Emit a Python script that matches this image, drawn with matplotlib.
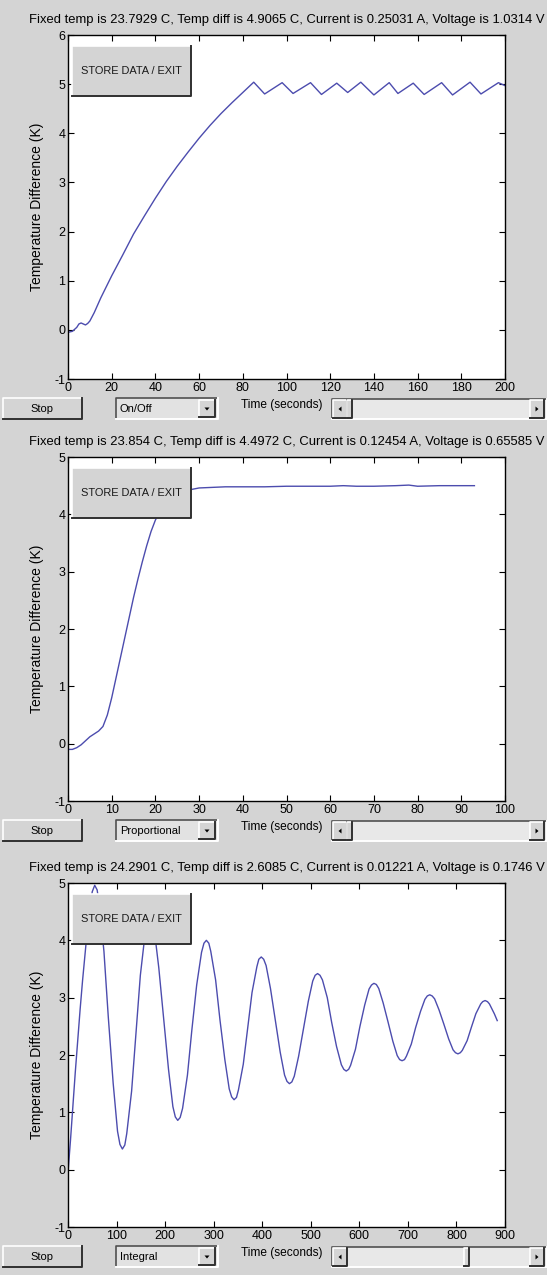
import numpy as np
import matplotlib.pyplot as plt
from matplotlib.patches import Rectangle, Polygon
from matplotlib.lines import Line2D

plt.rcParams['font.family'] = ['Liberation Sans', 'DejaVu Sans']
plt.rcParams['axes.unicode_minus'] = False

# --- data ---
titles = [
    'Fixed temp is 23.7929 C, Temp diff is 4.9065 C, Current is 0.25031 A, Voltage is 1.0314 V',
    'Fixed temp is 23.854 C, Temp diff is 4.4972 C, Current is 0.12454 A, Voltage is 0.65585 V',
    'Fixed temp is 24.2901 C, Temp diff is 2.6085 C, Current is 0.01221 A, Voltage is 0.1746 V',
]
modes = ['On/Off', 'Proportional', 'Integral']
xmax = [200, 100, 900]
xstep = [20, 10, 100]
ymax = [6, 5, 5]

# on/off control
onoff_t = [0, 2, 4, 5, 6, 7, 8, 9, 10, 12, 15, 20, 25, 30, 35, 40, 45, 50, 55, 60,
           65, 70, 75, 80, 85, 90, 98, 103, 111, 116, 123, 128, 134, 140, 147, 151,
           158, 163, 171, 176, 184, 189, 197, 200]
onoff_v = [-0.05, -0.03, 0.05, 0.12, 0.14, 0.12, 0.1, 0.13, 0.18, 0.35, 0.65, 1.1,
           1.52, 1.95, 2.32, 2.68, 3.02, 3.33, 3.62, 3.9, 4.16, 4.4, 4.62, 4.83, 5.04,
           4.8, 5.03, 4.81, 5.03, 4.79, 5.02, 4.83, 5.04, 4.78, 5.03, 4.81, 5.02, 4.79,
           5.03, 4.78, 5.04, 4.8, 5.03, 4.97]

# proportional control
prop_t = [0, 1, 2, 3, 4, 5, 6, 7, 8, 9, 10, 11, 12, 13, 14, 15, 16, 17, 18, 19, 20,
          21, 22, 24, 26, 28, 30, 33, 36, 40, 45, 50, 55, 60, 63, 66, 70, 75, 78, 80,
          85, 90, 93]
prop_v = [-0.1, -0.1, -0.07, -0.02, 0.05, 0.12, 0.17, 0.22, 0.3, 0.5, 0.8, 1.15, 1.5,
          1.85, 2.2, 2.55, 2.87, 3.17, 3.45, 3.7, 3.9, 4.05, 4.17, 4.3, 4.38, 4.43,
          4.46, 4.47, 4.48, 4.48, 4.48, 4.49, 4.49, 4.49, 4.5, 4.49, 4.49, 4.5, 4.51,
          4.49, 4.5, 4.5, 4.5]

# integral control
integ_t = [0, 5, 10, 15, 20, 25, 30, 35, 40, 45, 50, 55, 60,
           64, 74, 83, 93, 102, 107, 112, 117, 121, 131, 140, 149, 159, 163, 168, 173,
           178, 187, 197, 207, 216, 221, 226, 231, 236, 246, 255, 265, 275, 280, 285, 290,
           294, 304, 313, 323, 332, 337, 342, 347, 351, 361, 370, 379, 389, 393, 398, 403,
           408, 417, 427, 437, 446, 451, 456, 461, 466, 475, 485, 495, 504, 509, 514, 519,
           524, 534, 543, 553, 563, 568, 573, 578, 582, 592, 601, 611, 620, 625, 630, 635,
           640, 649, 659, 669, 678, 683, 688, 693, 697, 707, 716, 726, 735, 740, 745, 750,
           755, 764, 774, 784, 793, 798, 803, 808, 812, 822, 831, 840, 850, 854, 859, 864,
           868, 878, 884]
integ_v = [-0.05, 0.5, 1.1, 1.7, 2.25, 2.8, 3.3, 3.75, 4.2, 4.58, 4.85, 4.96, 4.88,
           4.65, 3.81, 2.66, 1.51, 0.67, 0.44, 0.36, 0.43, 0.63, 1.37, 2.38, 3.39, 4.13, 4.33, 4.4, 4.34,
           4.16, 3.52, 2.63, 1.75, 1.10, 0.92, 0.86, 0.91, 1.07, 1.65, 2.43, 3.22, 3.79, 3.95, 4.0, 3.95,
           3.81, 3.31, 2.61, 1.92, 1.41, 1.27, 1.22, 1.26, 1.39, 1.84, 2.47, 3.09, 3.54, 3.67, 3.71, 3.67,
           3.56, 3.16, 2.61, 2.05, 1.65, 1.54, 1.5, 1.53, 1.63, 1.98, 2.46, 2.94, 3.29, 3.39, 3.42, 3.39,
           3.31, 3.0, 2.57, 2.15, 1.83, 1.75, 1.72, 1.75, 1.82, 2.1, 2.49, 2.87, 3.15, 3.22, 3.25, 3.23,
           3.16, 2.91, 2.58, 2.24, 1.99, 1.92, 1.9, 1.92, 1.98, 2.19, 2.48, 2.76, 2.97, 3.03, 3.05, 3.03,
           2.98, 2.79, 2.54, 2.28, 2.09, 2.04, 2.02, 2.04, 2.08, 2.25, 2.49, 2.72, 2.89, 2.93, 2.95, 2.93,
           2.89, 2.72, 2.6]

series = [(onoff_t, onoff_v), (prop_t, prop_v), (integ_t, integ_v)]

# --- layout (pixels, origin top-left) ---
W, H = 547, 1275
BG = '#d4d4d4'
LINE = '#4c4cae'
ax_left, ax_w, ax_h = 68, 437, 344
ax_tops = [35, 457, 883]
thumbs = [347, 347, 464]


def fx(x):
    return x / W


def fy(y):
    return 1 - y / H


def box(fig, x, y, w, h, face=BG, raised=True):
    x0, x1 = fx(x), fx(x + w)
    y0, y1 = fy(y + h), fy(y)
    fig.add_artist(Rectangle((x0, y0), x1 - x0, y1 - y0, transform=fig.transFigure,
                             facecolor=face, edgecolor='none', zorder=5))
    light, dark = ('white', '#303030') if raised else ('#505050', 'white')
    fig.add_artist(Line2D([x0, x0, x1], [y0, y1, y1], transform=fig.transFigure,
                          color=light, lw=1.2, zorder=6))
    fig.add_artist(Line2D([x0, x1, x1], [y0, y0, y1], transform=fig.transFigure,
                          color=dark, lw=1.4, zorder=6))


def arrow(fig, cx, cy, kind):
    s = 2.5
    if kind == 'down':
        pts = [(cx - s, cy - 1.5), (cx + s, cy - 1.5), (cx, cy + 1.5)]
    elif kind == 'left':
        pts = [(cx + 1.5, cy - s), (cx + 1.5, cy + s), (cx - 1.5, cy)]
    else:
        pts = [(cx - 1.5, cy - s), (cx - 1.5, cy + s), (cx + 1.5, cy)]
    fig.add_artist(Polygon([(fx(a), fy(b)) for a, b in pts], closed=True,
                           transform=fig.transFigure, facecolor='black',
                           edgecolor='none', zorder=7))


fig = plt.figure(figsize=(W / 100, H / 100), dpi=100, facecolor=BG)

for i, (t, v) in enumerate(series):
    top = ax_tops[i]
    ax = fig.add_axes([fx(ax_left), fy(top + ax_h), ax_w / W, ax_h / H])
    ax.set_facecolor('white')
    ax.plot(t, v, color=LINE, lw=1.0)
    ax.set_xlim(0, xmax[i])
    ax.set_ylim(-1, ymax[i])
    ax.set_xticks(np.arange(0, xmax[i] + 1, xstep[i]))
    ax.set_yticks(np.arange(-1, ymax[i] + 1, 1))
    ax.tick_params(direction='in', top=True, right=True, length=4, width=0.8,
                   labelsize=9, pad=2, colors='black')
    for sp in ax.spines.values():
        sp.set_color('black')
        sp.set_linewidth(1)
    ax.set_title(titles[i], fontsize=9.4, pad=9)
    ax.set_ylabel('Temperature Difference (K)', fontsize=10)
    ax.yaxis.set_label_coords(-0.056, 0.5)
    ax.set_xlabel('Time (seconds)', fontsize=8.6)
    ax.xaxis.set_label_coords(0.49, -0.058)

    # STORE DATA / EXIT button over the plot
    box(fig, 72, top + 11, 119, 50)
    fig.text(fx(131), fy(top + 36), 'STORE DATA / EXIT', fontsize=7.9,
             ha='center', va='center', color='#1a1a1a', zorder=8)

    # controls under the plot
    by = top + ax_h + 19
    box(fig, 3, by, 79, 21)
    fig.text(fx(42), fy(by + 11), 'Stop', fontsize=8, ha='center', va='center', zorder=8)

    box(fig, 116, by, 102, 21, face='#e2e2e2', raised=False)
    fig.text(fx(120), fy(by + 11), modes[i], fontsize=8, ha='left', va='center', zorder=8)
    box(fig, 199, by + 2, 16, 17)
    arrow(fig, 207, by + 11, 'down')

    box(fig, 332, by + 1, 215, 20, face='#e8e8e8', raised=False)
    box(fig, 333, by + 2, 14, 18)
    arrow(fig, 340, by + 11, 'left')
    box(fig, 530, by + 2, 14, 18)
    arrow(fig, 537, by + 11, 'right')
    box(fig, thumbs[i], by + 2, 5, 18)

fig.savefig('out.png', dpi=100, facecolor=BG)
